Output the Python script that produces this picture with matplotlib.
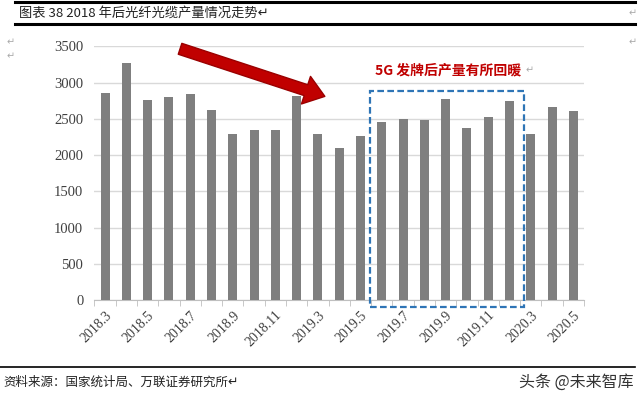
import matplotlib
matplotlib.use("Agg")
import matplotlib.pyplot as plt
from matplotlib.patches import Rectangle, FancyArrowPatch
from matplotlib.lines import Line2D

# 月份 & 光纤光缆产量（万芯千米）
months = ["2018.3", "2018.4", "2018.5", "2018.6", "2018.7", "2018.8", "2018.9",
          "2018.10", "2018.11", "2018.12", "2019.3", "2019.4", "2019.5", "2019.6",
          "2019.7", "2019.8", "2019.9", "2019.10", "2019.11", "2019.12",
          "2020.3", "2020.4", "2020.5"]
output = [2864, 3279, 2759, 2809, 2841, 2630, 2298, 2353, 2344, 2823, 2289,
          2100, 2270, 2464, 2496, 2487, 2772, 2381, 2524, 2749, 2298, 2671, 2616]

cjk = ["Noto Sans CJK SC", "DejaVu Sans"]
serif = "Liberation Serif"

fig = plt.figure(figsize=(6.4, 3.99), dpi=100)
ax = fig.add_axes([0.1475, 0.2475, 0.765, 0.636])

x = list(range(len(months)))
ax.bar(x, output, width=0.42, color="#7f7f7f", zorder=3)

ax.set_xlim(-0.5, len(months) - 0.5)
ax.set_ylim(0, 3500)
ax.set_yticks(range(0, 3501, 500))
ax.grid(axis="y", color="#d9d9d9", linewidth=1, zorder=0)
for s in ["top", "right", "left"]:
    ax.spines[s].set_visible(False)
ax.spines["bottom"].set_color("#bfbfbf")
ax.tick_params(axis="y", length=0, labelsize=10.5, labelcolor="#404040", pad=8)

# 标签每隔一个月显示，刻度线在类别之间
ax.set_xticks(x[::2])
ax.set_xticklabels(months[::2], rotation=45, ha="right", rotation_mode="anchor")
ax.set_xticks([i - 0.5 for i in range(len(months) + 1)], minor=True)
ax.tick_params(axis="x", which="major", length=0, labelsize=10, labelcolor="#404040", pad=6)
ax.tick_params(axis="x", which="minor", length=4, color="#bfbfbf")
for lab in ax.get_xticklabels() + ax.get_yticklabels():
    lab.set_fontfamily(serif)

# 下降趋势箭头
arrow = FancyArrowPatch((3.4, 3480), (10.45, 2800),
                        arrowstyle="simple,head_width=1.9,head_length=1.3,tail_width=0.75",
                        mutation_scale=11, color="#c00000", ec="#9a0000",
                        clip_on=False, zorder=5)
ax.add_patch(arrow)

# 5G 发牌后的虚线框
box = Rectangle((12.46, -95), 7.2, 2985, fill=False, ls=(0, (3, 1.5)),
                lw=1.6, ec="#2e75b6", clip_on=False, zorder=6)
ax.add_patch(box)
ax.text(16.1, 3170, "5G 发牌后产量有所回暖", color="#c00000", fontsize=10,
        fontweight="bold", family=cjk, ha="center", va="center")
ax.text(19.75, 3170, "↵", color="#aaaaaa", fontsize=7, family=cjk, va="center")

# 表头和页脚
fig.add_artist(Line2D([0.023, 0.992], [0.995, 0.995], color="black", lw=2.2))
fig.add_artist(Line2D([0.023, 0.992], [0.94, 0.94], color="black", lw=2.2))
fig.text(0.03, 0.966, "图表 38 2018 年后光纤光缆产量情况走势↵", fontsize=9.5,
         family=cjk, va="center", color="#222222")
fig.text(0.01, 0.895, "↵", fontsize=7, color="#aaaaaa", family=cjk, va="center")
fig.text(0.01, 0.86, "↵", fontsize=7, color="#aaaaaa", family=cjk, va="center")
fig.text(0.995, 0.966, "↵", fontsize=7, color="#aaaaaa", family=cjk, va="center", ha="right")
fig.text(0.995, 0.895, "↵", fontsize=7, color="#aaaaaa", family=cjk, va="center", ha="right")

fig.add_artist(Line2D([0.0, 0.992], [0.08, 0.08], color="black", lw=1.2))
fig.text(0.005, 0.043, "资料来源：国家统计局、万联证券研究所↵", fontsize=9,
         family=cjk, style="italic", va="center", color="#222222")
fig.text(0.99, 0.043, "头条 @未来智库", fontsize=11.5, family=cjk,
         va="center", ha="right", color="#333333")

fig.savefig("out.png", dpi=100)
